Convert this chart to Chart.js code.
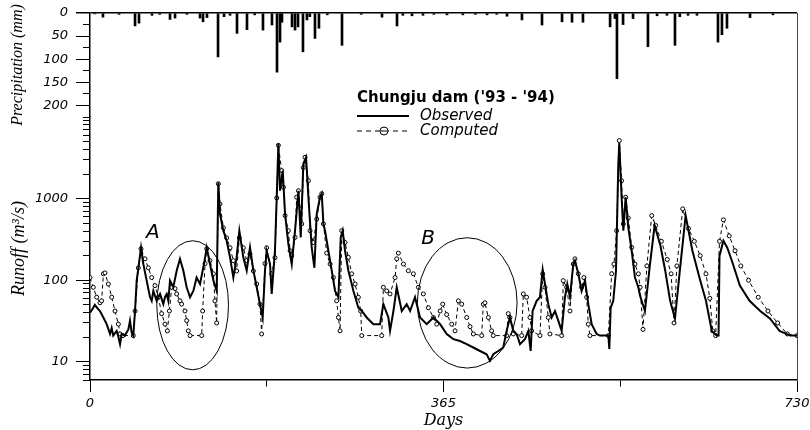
<!DOCTYPE html>
<html>
<head>
<meta charset="utf-8">
<script src="https://cdn.jsdelivr.net/npm/chart.js@4.4.1/dist/chart.umd.min.js"></script>
<style>
  html, body { margin: 0; padding: 0; background: #fff; }
  #wrap { width: 810px; height: 430px; position: relative; }
</style>
</head>
<body>
<div id="wrap"><canvas id="chart"></canvas></div>
<script>
// daily rainfall (mm)
const rainDays = [5, 13.4, 30, 46.5, 50.6, 64, 72, 82.6, 87.8, 100, 113.6, 116.7, 120.8, 132.2, 138.4, 144.6, 151.8, 162.1, 170, 178.6, 187.9, 193.1, 196.2, 198.2, 208.6, 211.7, 214.8, 219.9, 224, 227, 232.3, 236.4, 245, 260.2, 280, 301.5, 317, 323, 332.5, 343.8, 355, 368.6, 385, 398, 410, 420, 430.6, 446, 466.7, 487.4, 497.7, 509, 537, 542, 544.1, 550.4, 560.7, 576.1, 585.5, 595.7, 604, 609, 617.5, 626.7, 648.4, 652.5, 657.7, 681.5, 705.2];
const rainMm   = [2, 9, 3, 28, 22, 5, 3, 14, 11, 3, 11, 19, 10, 95, 8, 5, 44, 36, 4, 37, 26, 128, 63, 20, 30, 37, 30, 84, 15, 8, 55, 33, 4, 70, 3, 9, 28, 5, 6, 5, 3, 4, 4, 3, 4, 3, 7, 15, 26, 19, 20, 20, 30, 12, 142, 25, 12, 73, 6, 5, 70, 8, 5, 5, 63, 47, 33, 10, 4];

// observed runoff (m3/s)
const obsDays = [0, 3.4, 5, 8.6, 10.3, 13.8, 17.2, 20.7, 22.4, 24, 27.5, 29, 31, 32.7, 36, 39.6, 41.3, 43, 44.7, 46.5, 48.2, 49.9, 52.7, 55, 58.5, 62, 63.7, 65.4, 68.8, 72.3, 75.7, 77.4, 79.2, 80.9, 82.6, 86, 89.5, 92.9, 96.4, 99.8, 103.3, 106.7, 110.1, 113.6, 117.7, 120.5, 123.9, 127.4, 130.8, 132.5, 134.2, 137.7, 141.1, 144.6, 148, 151.4, 154.2, 158.3, 161.8, 165.2, 168.7, 172.1, 175.5, 178.3, 180.7, 182.4, 185.9, 187.6, 191, 192.8, 194.5, 196.2, 199, 201.4, 204.8, 208.3, 211.7, 215.2, 217.6, 220.3, 223.1, 225.5, 228.9, 231.7, 234.1, 237.5, 239.3, 241, 242.7, 246.1, 249.6, 253, 256.5, 258.9, 260.9, 263.3, 266.8, 272, 277.1, 280.6, 285.7, 292.6, 299.5, 302.9, 308.1, 309.8, 313.3, 316.7, 321.9, 327, 330.5, 335.6, 340.8, 347.7, 354.6, 361.5, 368.3, 375.2, 382, 388.9, 395.8, 402.7, 409.5, 413, 416.4, 421.6, 426.7, 430.2, 433.6, 437.1, 440.5, 444, 449.1, 452.6, 455, 457, 461.2, 464.6, 467.4, 469.8, 473.2, 476.7, 480.1, 483.5, 487, 490.4, 492.8, 495.6, 499, 500.7, 504.2, 507.6, 511.1, 514.5, 518, 523.1, 526.6, 535.2, 536.2, 537.6, 540.3, 543.1, 545.5, 546.5, 548.9, 550.7, 553.1, 555.8, 559.3, 562.7, 566.2, 568, 573, 578, 583, 589, 594, 599, 604, 609, 615, 622, 630, 636, 642, 647, 649, 650, 654, 658, 663, 671, 681, 692, 702, 712, 723, 730];
const obsQ    = [40, 46, 50, 44, 42, 35, 29, 22, 26, 21, 24, 21, 16.5, 22, 21, 25, 32, 23, 21, 42, 99, 140, 250, 160, 99, 62, 56, 74, 56, 68, 51, 62, 68, 56, 99, 82, 131, 183, 131, 82, 62, 74, 108, 90, 158, 250, 158, 99, 74, 1580, 650, 405, 305, 191, 108, 191, 405, 191, 131, 253, 131, 82, 51, 35, 131, 230, 158, 68, 230, 1040, 4690, 1250, 2210, 650, 280, 158, 405, 1250, 335, 2670, 3210, 1040, 253, 142, 650, 1040, 1150, 490, 405, 230, 131, 74, 62, 335, 405, 230, 131, 74, 46, 42, 35, 29, 29, 51, 35, 24, 42, 82, 42, 51, 42, 62, 35, 29, 35, 29, 22, 19, 18, 16.5, 15, 13.6, 12.4, 10.3, 12.4, 13.6, 15, 24, 35, 24, 22, 16.5, 19, 24, 13.6, 42, 56, 62, 135, 90, 51, 35, 42, 32, 24, 62, 90, 62, 158, 174, 120, 74, 99, 51, 29, 22, 21, 21, 14.4, 46, 56, 131, 2670, 4800, 1040, 405, 1040, 440, 230, 108, 82, 64, 42, 150, 470, 265, 130, 56, 34, 130, 620, 230, 100, 56, 24, 21, 21, 200, 305, 250, 170, 86, 56, 42, 34, 24, 21, 21];

// computed runoff (m3/s)
const calDays = [0, 3.4, 6.9, 10.3, 12, 13.8, 15.5, 18.9, 22.4, 25.8, 29.3, 31, 34, 44.7, 46.5, 49.9, 52.7, 56.8, 60.2, 63.7, 67.1, 70.6, 74, 77.4, 79.9, 82, 84.3, 87.8, 89.5, 92.9, 94.6, 98.1, 99.8, 101.5, 103.3, 115.3, 116.3, 118.8, 120.5, 123.9, 127.4, 129, 130.8, 132.5, 134.2, 137.7, 141.1, 144.6, 148, 151.4, 154.2, 158.3, 161.8, 165.2, 168.7, 172.1, 175.5, 177.2, 180.7, 182.4, 187.6, 191, 192.8, 194.5, 197.9, 199.7, 201.4, 204.8, 206.6, 208.3, 211.7, 213.4, 215.2, 218.6, 220.3, 222, 225.5, 227.2, 230.6, 234.1, 237.5, 239.3, 241, 244.4, 247.9, 251.3, 254.7, 256.5, 258.2, 259.9, 263.3, 266.8, 270.2, 273.7, 277.1, 279.5, 280.6, 301.2, 302.9, 306.4, 309.8, 315, 316.7, 318.4, 323.6, 328.7, 333.9, 339.1, 344.2, 349.4, 354.6, 358, 361.5, 364.2, 368.3, 373.5, 376.9, 380.4, 383.8, 389, 392.4, 395.8, 404.4, 406.1, 407.8, 411.3, 414.7, 416.4, 430.2, 431.9, 433.6, 437.1, 445.7, 447.4, 450.8, 454.3, 456, 464.6, 467.4, 469.8, 473.2, 474.9, 487, 488.7, 492.1, 495.6, 499, 500.7, 504.2, 507.6, 510, 512.8, 514.5, 516.2, 535.2, 538.6, 541, 543.8, 546.5, 548.9, 550.7, 553.1, 555.8, 559.3, 562.7, 566.2, 568, 571, 575, 580, 584, 590, 596, 600, 603, 606, 612, 618, 624, 630, 636, 640, 643, 646, 650, 654, 660, 666, 672, 680, 690, 700, 710, 720, 730];
const calQ    = [108, 82, 62, 53, 56, 120, 123, 90, 62, 42, 29, 22, 21, 21, 42, 142, 243, 183, 142, 108, 86, 62, 39, 29, 24, 42, 82, 79, 68, 56, 51, 42, 32, 24, 21, 21, 42, 160, 243, 174, 120, 56, 30, 1520, 860, 440, 330, 250, 174, 130, 330, 250, 174, 210, 130, 90, 51, 22, 160, 250, 120, 189, 1020, 4500, 2210, 1380, 620, 405, 230, 200, 335, 1040, 1250, 490, 2400, 3210, 1660, 405, 290, 560, 1040, 1150, 490, 215, 158, 108, 56, 35, 24, 405, 290, 191, 120, 90, 62, 42, 21, 21, 82, 74, 68, 108, 183, 215, 158, 131, 120, 82, 68, 46, 35, 29, 42, 51, 38, 29, 24, 56, 51, 35, 27, 22, 21, 51, 53, 35, 24, 21, 21, 39, 35, 22, 21, 68, 62, 35, 24, 21, 120, 82, 35, 22, 21, 99, 82, 42, 158, 183, 120, 82, 108, 62, 29, 21, 21, 120, 158, 405, 5150, 1660, 490, 1040, 580, 253, 158, 120, 82, 25, 150, 620, 470, 300, 180, 120, 30, 150, 750, 430, 300, 200, 120, 60, 24, 21, 300, 550, 350, 230, 150, 100, 62, 42, 30, 22, 21];

// axis ticks
const dayTicks = [0, 182.5, 365, 547.5, 730];
const dayLabels = [0, 365, 730];
const rainTicks = [0, 25, 50, 75, 100, 125, 150, 175, 200, 225];
const rainLabels = [0, 50, 100, 150, 200];
const runoffTicks = [6, 7, 8, 9, 10, 20, 30, 40, 50, 60, 70, 80, 90, 100, 200, 300, 400, 500, 600, 700, 800, 900, 1000, 2000, 3000, 4000, 5000, 6000, 7000, 8000, 9000, 10000];
const runoffLabels = [10, 100, 1000];

// circled periods
const circleNames = ['A', 'B'];
const circleLabelAt = [[65, 383], [349, 325]];        // [day, runoff]
const circleSpan = [[69, 143, 8, 305], [338, 441, 8.4, 332]]; // [dayFrom, dayTo, qLow, qHigh]

const chartTitle = "Chungju dam ('93 - '94)";

// keep the plot box where the figure has it: no automatic room for edge labels
const noVPad = (w) => (s) => { s.width = w; s.paddingTop = 0; s.paddingBottom = 0; };
const noHPad = (h) => (s) => { s.height = h; s.paddingLeft = 0; s.paddingRight = 0; };

// labelled ticks long, the others half length (left ticks are drawn outer end first)
const isMajor = (c, labels) => c.tick && labels.includes(c.tick.value);
const leftTickDash = (labels) => (c) => isMajor(c, labels) ? [] : [7, 7];
const leftTickOffset = (labels) => (c) => isMajor(c, labels) ? 0 : 7;

const ellipses = {
  id: 'ellipses',
  afterDatasetsDraw(chart) {
    const { ctx, scales: { x, yQ } } = chart;
    ctx.save();
    ctx.strokeStyle = '#000';
    ctx.lineWidth = 1;
    circleSpan.forEach(([d0, d1, q0, q1], i) => {
      const x0 = x.getPixelForValue(d0), x1 = x.getPixelForValue(d1);
      const y0 = yQ.getPixelForValue(q0), y1 = yQ.getPixelForValue(q1);
      ctx.beginPath();
      ctx.ellipse((x0 + x1) / 2, (y0 + y1) / 2, (x1 - x0) / 2, Math.abs(y0 - y1) / 2, 0, 0, Math.PI * 2);
      ctx.stroke();
      const [ld, lq] = circleLabelAt[i];
      ctx.fillStyle = '#000';
      ctx.font = 'italic 20px "DejaVu Sans"';
      ctx.textAlign = 'center';
      ctx.textBaseline = 'middle';
      ctx.fillText(circleNames[i], x.getPixelForValue(ld), yQ.getPixelForValue(lq));
    });
    ctx.restore();
  }
};

const legendBox = {
  id: 'legendBox',
  afterDraw(chart) {
    const { ctx, chartArea: a } = chart;
    const x0 = a.left + 267, y0 = a.top + 85;
    ctx.save();
    ctx.fillStyle = '#000';
    ctx.strokeStyle = '#000';
    ctx.textBaseline = 'middle';
    ctx.font = 'bold 15px "DejaVu Sans"';
    ctx.fillText(chartTitle, x0, y0);

    ctx.lineWidth = 2;
    ctx.beginPath();
    ctx.moveTo(x0, y0 + 18);
    ctx.lineTo(x0 + 52, y0 + 18);
    ctx.stroke();

    ctx.lineWidth = 1;
    ctx.setLineDash([5, 4]);
    ctx.beginPath();
    ctx.moveTo(x0, y0 + 33);
    ctx.lineTo(x0 + 54, y0 + 33);
    ctx.stroke();
    ctx.setLineDash([]);
    ctx.fillStyle = '#fff';
    ctx.beginPath();
    ctx.arc(x0 + 27, y0 + 33, 4, 0, Math.PI * 2);
    ctx.fill();
    ctx.stroke();
    ctx.beginPath();
    ctx.moveTo(x0 + 24, y0 + 33);
    ctx.lineTo(x0 + 30, y0 + 33);
    ctx.stroke();

    ctx.fillStyle = '#000';
    ctx.font = 'italic 15px "DejaVu Sans"';
    ctx.fillText('Observed', x0 + 63, y0 + 18);
    ctx.fillText('Computed', x0 + 63, y0 + 33);
    ctx.restore();
  }
};

new Chart(document.getElementById('chart'), {
  type: 'line',
  data: {
    datasets: [
      {
        label: 'Observed',
        data: obsDays.map((d, i) => ({ x: d, y: obsQ[i] })),
        yAxisID: 'yQ',
        borderColor: '#000',
        borderWidth: 2,
        pointRadius: 0,
        tension: 0,
        order: 0,
      },
      {
        label: 'Computed',
        data: calDays.map((d, i) => ({ x: d, y: calQ[i] })),
        yAxisID: 'yQ',
        borderColor: '#000',
        borderWidth: 1,
        borderDash: [4, 3],
        pointRadius: 2,
        pointBorderWidth: 1,
        pointBackgroundColor: '#fff',
        pointBorderColor: '#000',
        tension: 0,
        order: 1,
      },
      {
        type: 'bar',
        label: 'Precipitation',
        data: rainDays.map((d, i) => ({ x: d, y: rainMm[i] })),
        yAxisID: 'yRain',
        backgroundColor: '#000',
        barThickness: 2,
        grouped: false,
        order: 2,
      },
    ],
  },
  options: {
    responsive: true,
    maintainAspectRatio: false,
    animation: false,
    events: [],
    layout: { padding: { top: 13, right: 13, left: 0, bottom: 0 } },
    plugins: { legend: { display: false }, tooltip: { enabled: false } },
    scales: {
      x: {
        type: 'linear',
        position: 'bottom',
        min: 0,
        max: 730,
        offset: false,
        afterBuildTicks: (s) => { s.ticks = dayTicks.map(v => ({ value: v })); },
        afterFit: noHPad(50),
        ticks: {
          autoSkip: false,
          maxRotation: 0,
          padding: 4,
          color: '#000',
          font: { family: 'DejaVu Sans', style: 'italic', size: 13 },
          callback: (v) => dayLabels.includes(v) ? String(v) : '',
        },
        grid: {
          drawOnChartArea: false,
          color: '#000',
          tickLength: 12,
          offset: false,
          tickBorderDash: (c) => isMajor(c, dayLabels) ? [] : [6, 20],
        },
        border: { color: '#000', width: 1.5 },
        title: {
          display: true,
          text: 'Days',
          color: '#000',
          padding: { top: 0, bottom: 0 },
          font: { family: 'DejaVu Serif', style: 'italic', size: 16 },
        },
      },
      yQ: {
        type: 'logarithmic',
        position: 'left',
        stack: 'left',
        stackWeight: 263,
        min: 6,
        max: 10000,
        afterBuildTicks: (s) => { s.ticks = runoffTicks.map(v => ({ value: v })); },
        afterFit: noVPad(90),
        ticks: {
          autoSkip: false,
          padding: 8,
          color: '#000',
          font: { family: 'DejaVu Sans', style: 'italic', size: 13 },
          callback: (v) => runoffLabels.includes(v) ? String(v) : '',
        },
        grid: {
          drawOnChartArea: false,
          color: '#000',
          tickLength: 14,
          tickBorderDash: leftTickDash(runoffLabels),
          tickBorderDashOffset: leftTickOffset(runoffLabels),
        },
        border: { color: '#000', width: 1.5 },
        title: {
          display: true,
          text: 'Runoff (m³/s)',
          color: '#000',
          padding: { top: 8, bottom: 0 },
          font: { family: 'Liberation Serif', style: 'italic', size: 18 },
        },
      },
      yRain: {
        type: 'linear',
        position: 'left',
        stack: 'left',
        stackWeight: 104,
        reverse: true,
        min: 0,
        max: 225,
        afterBuildTicks: (s) => { s.ticks = rainTicks.map(v => ({ value: v })); },
        afterFit: noVPad(90),
        ticks: {
          autoSkip: false,
          padding: 8,
          color: '#000',
          font: { family: 'DejaVu Sans', style: 'italic', size: 13 },
          callback: (v) => rainLabels.includes(v) ? String(v) : '',
        },
        grid: {
          drawOnChartArea: true,
          color: (c) => (c.tick && c.tick.value === 0) ? '#000' : 'rgba(0,0,0,0)',
          lineWidth: (c) => (c.tick && c.tick.value === 0) ? 1.5 : 1,
          tickColor: '#000',
          tickLength: 14,
          tickBorderDash: leftTickDash(rainLabels),
          tickBorderDashOffset: leftTickOffset(rainLabels),
        },
        border: { color: '#000', width: 1.5 },
        title: {
          display: true,
          text: 'Precipitation (mm)',
          color: '#000',
          padding: { top: 8, bottom: 0 },
          font: { family: 'Liberation Serif', style: 'italic', size: 16 },
        },
      },
      yR: {
        type: 'linear',
        position: 'right',
        afterFit: (s) => { s.width = 0; s.paddingTop = 0; s.paddingBottom = 0; },
        ticks: { display: false },
        grid: { display: false },
        border: { display: true, color: '#444', width: 1 },
      },
    },
  },
  plugins: [ellipses, legendBox],
});
</script>
</body>
</html>
